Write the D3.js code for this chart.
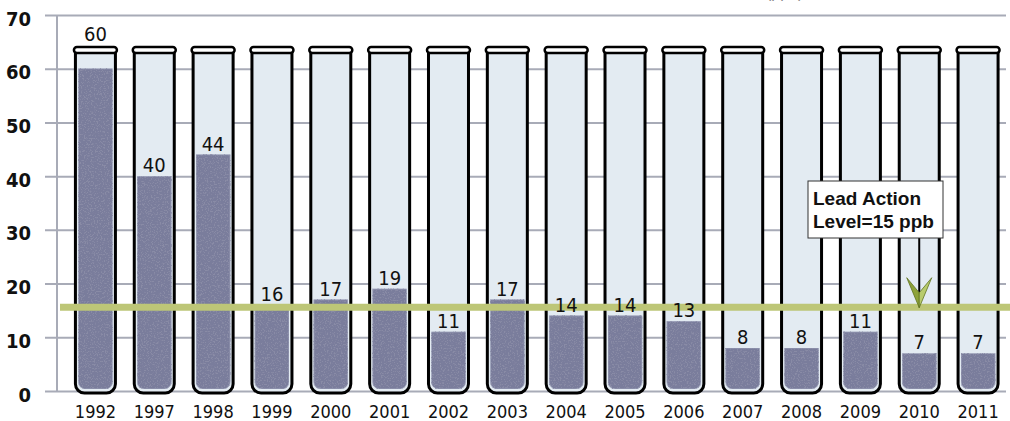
<!DOCTYPE html>
<html lang="en">
<head>
    <meta charset="UTF-8">
    <title>Lead Levels</title>
    <script src="https://d3js.org/d3.v7.min.js"></script>
    <style>
        body { margin: 0; background: #fff; overflow: hidden; }
        svg { display: block; }
        .cond { font-family: 'DejaVu Sans Condensed', 'DejaVu Sans', sans-serif; font-stretch: condensed; }
    </style>
</head>
<body>
    <div id="my_dataviz"></div>
</body>
</html>

<script>
    // Data
    const years = ['1992', '1997', '1998', '1999', '2000', '2001', '2002', '2003',
                   '2004', '2005', '2006', '2007', '2008', '2009', '2010', '2011'];
    const leadValues = [60, 40, 44, 16, 17, 19, 11, 17, 14, 14, 13, 8, 8, 11, 7, 7];
    const yTicks = [0, 10, 20, 30, 40, 50, 60, 70];
    const actionLevel = 15.6;   // where the green line sits in the picture
    const noteLines = ['Lead Action', 'Level=15 ppb'];
    const noteYear = '2010';

    const W = 1010, H = 421;
    const tubeTop = 52, tubeBottom = 393;

    const svg = d3.select("#my_dataviz")
      .append("svg")
        .attr("width", W)
        .attr("height", H);

    // speckled texture for the liquid
    const defs = svg.append("defs");
    const grain = defs.append("filter").attr("id", "grain")
        .attr("x", 0).attr("y", 0).attr("width", "100%").attr("height", "100%");
    grain.append("feTurbulence").attr("type", "fractalNoise")
        .attr("baseFrequency", 0.7).attr("numOctaves", 3).attr("seed", 7).attr("result", "n");
    grain.append("feColorMatrix").attr("in", "n").attr("type", "matrix")
        .attr("values", "0 0 0 0 0.25  0 0 0 0 0.26  0 0 0 0 0.38  9 0 0 0 -4.9")
        .attr("result", "spots");
    grain.append("feComposite").attr("in", "spots").attr("in2", "SourceGraphic")
        .attr("operator", "in").attr("result", "s2");
    const merge = grain.append("feMerge");
    merge.append("feMergeNode").attr("in", "SourceGraphic");
    merge.append("feMergeNode").attr("in", "s2");

    // Scales
    const x = d3.scaleBand()
        .domain(years)
        .range([66, 1007.5]);
    const y = d3.scaleLinear()
        .domain([0, 70])
        .range([391, 15]);
    const cx = d => x(d) + x.bandwidth() / 2;

    // cut-off unit text at the very top (only its descenders show)
    svg.append("text")
        .attr("x", 766).attr("y", -2.5)
        .style("font-family", "Liberation Sans, Arial, sans-serif")
        .style("font-size", "16px")
        .style("fill", "#8a8a8a")
        .text("(ppb)");

    // Y axis with gridlines
    const yAxis = svg.append("g")
        .attr("transform", "translate(45,0)")
        .call(d3.axisLeft(y).tickValues(yTicks).tickSize(-(1006 - 45)).tickPadding(14));
    yAxis.select(".domain").remove();
    yAxis.selectAll(".tick line")
        .attr("stroke", "#a8abb7")
        .attr("stroke-width", 2);
    yAxis.selectAll(".tick text")
        .attr("class", "cond")
        .attr("dy", "0.5em")
        .style("font-weight", "bold")
        .style("font-size", "20px")
        .style("fill", "#111");

    svg.append("line")
        .attr("x1", 57).attr("x2", 57)
        .attr("y1", y(70)).attr("y2", y(0))
        .attr("stroke", "#a8abb7")
        .attr("stroke-width", 2);

    // X axis labels
    const xAxis = svg.append("g")
        .attr("transform", `translate(0,${y(0)})`)
        .call(d3.axisBottom(x).tickSize(0).tickPadding(14));
    xAxis.select(".domain").remove();
    xAxis.selectAll(".tick text")
        .attr("class", "cond")
        .style("font-size", "18px")
        .style("fill", "#111");

    // Tubes
    const tubeData = years.map((yr, i) => ({ year: yr, value: leadValues[i] }));
    const tubes = svg.selectAll(".tube")
        .data(tubeData)
        .enter()
        .append("g")
        .attr("class", "tube");

    const r = 9;
    tubes.append("path")
        .attr("d", d => {
            const c = cx(d.year);
            return `M${c - 20},${tubeTop} V${tubeBottom - r} A${r},${r} 0 0 0 ${c - 20 + r},${tubeBottom}` +
                   ` H${c + 20 - r} A${r},${r} 0 0 0 ${c + 20},${tubeBottom - r} V${tubeTop}`;
        })
        .attr("fill", "#e3ebf2")
        .attr("stroke", "#000")
        .attr("stroke-width", 3);

    const r2 = 7, barBottom = 389;
    tubes.append("path")
        .attr("d", d => {
            const c = cx(d.year), t = y(d.value);
            return `M${c - 17},${t} V${barBottom - r2} A${r2},${r2} 0 0 0 ${c - 17 + r2},${barBottom}` +
                   ` H${c + 17 - r2} A${r2},${r2} 0 0 0 ${c + 17},${barBottom - r2} V${t} Z`;
        })
        .attr("fill", "#7a7d9c")
        .attr("stroke", "#a4a9c0")
        .attr("stroke-width", 0.8)
        .attr("filter", "url(#grain)");

    tubes.append("rect")
        .attr("x", d => cx(d.year) - 21.5)
        .attr("y", 47)
        .attr("width", 43)
        .attr("height", 6)
        .attr("rx", 3)
        .attr("fill", "#fff")
        .attr("stroke", "#000")
        .attr("stroke-width", 2.5);

    // Action level line
    svg.append("line")
        .attr("x1", 60).attr("x2", W)
        .attr("y1", y(actionLevel)).attr("y2", y(actionLevel))
        .attr("stroke", "#bdc677")
        .attr("stroke-width", 7);

    // Value labels (drawn over the green line)
    svg.selectAll(".val")
        .data(tubeData)
        .enter()
        .append("text")
        .attr("class", "cond")
        .attr("x", d => cx(d.year))
        .attr("y", d => {
            const t = y(d.value) - 4;
            return (t - 16 < tubeTop + 2) ? 41 : t;
        })
        .attr("text-anchor", "middle")
        .style("font-size", "20px")
        .style("fill", "#111")
        .text(d => d.value);

    // Annotation box and arrow
    const ax = cx(noteYear), tip = y(actionLevel) + 0.5;
    svg.append("line")
        .attr("x1", ax).attr("x2", ax)
        .attr("y1", 238).attr("y2", tip - 14)
        .attr("stroke", "#000")
        .attr("stroke-width", 2);
    svg.append("path")
        .attr("d", `M${ax - 12.5},${tip - 30} L${ax},${tip - 15} L${ax},${tip} Z`)
        .attr("fill", "#8ea33a")
        .attr("stroke", "#5f7220").attr("stroke-width", 0.8);
    svg.append("path")
        .attr("d", `M${ax + 12.5},${tip - 30} L${ax},${tip - 15} L${ax},${tip} Z`)
        .attr("fill", "#b8cb6c")
        .attr("stroke", "#5f7220").attr("stroke-width", 0.8);

    svg.append("rect")
        .attr("x", 808).attr("y", 181)
        .attr("width", 135).attr("height", 57)
        .attr("fill", "#fff")
        .attr("stroke", "#333")
        .attr("stroke-width", 1);
    svg.selectAll(".note")
        .data(noteLines)
        .enter()
        .append("text")
        .attr("class", "note")
        .attr("x", 813)
        .attr("y", (d, i) => 205 + i * 22.5)
        .style("font-family", "'Liberation Sans', Arial, sans-serif")
        .style("font-weight", "bold")
        .style("font-size", "19px")
        .style("fill", "#111")
        .text(d => d);
</script>
